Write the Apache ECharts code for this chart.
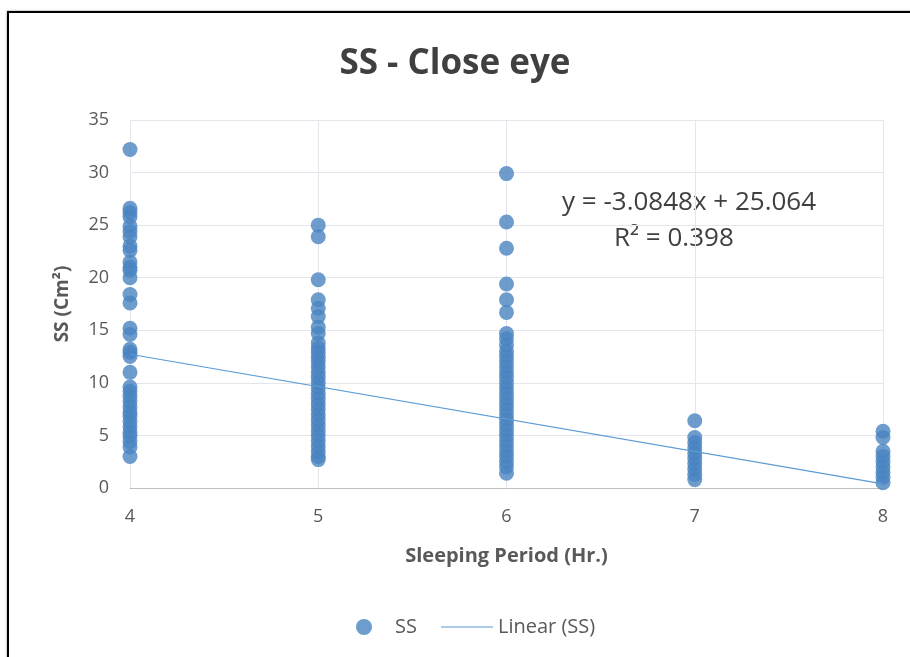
<!DOCTYPE html>
<html>
<head>
<meta charset="utf-8">
<script src="https://cdn.jsdelivr.net/npm/echarts@6/dist/echarts.min.js"></script>
<style>
    body {
        margin: 0;
        width: 910px;
        height: 657px;
        overflow: hidden;
        background: #fff;
        position: relative;
    }

    #frame {
        position: absolute;
        left: 7px;
        top: 11px;
        width: 1000px;
        height: 1000px;
        border: 2px solid #000;
        box-shadow: 0 0 2px #888;
    }

    #chart {
        position: absolute;
        left: 0;
        top: 0;
        width: 910px;
        height: 657px;
    }
</style>
</head>
<body>
<div id="frame"></div>
<div id="chart"></div>
<script>
// sleeping period (hr.)
const periods = [4, 5, 6, 7, 8];

// SS (cm2) per sleeping period
const ss4 = [32.2, 26.6, 26.2, 25.8, 24.9, 24.4, 23.9, 23.0, 22.6, 21.5, 21.0, 20.7, 20.0, 18.4, 17.6,
    15.2, 14.6, 13.2, 12.9, 12.5, 11.0, 9.6, 9.2, 8.7, 8.2, 7.7, 7.2, 6.8, 6.3, 5.8, 5.3, 4.9, 4.4, 3.9, 3.0];
const ss5 = [25.0, 23.9, 19.8, 17.9, 17.1, 16.3, 15.3, 14.7, 13.8, 13.3, 12.9, 12.4, 12.0, 11.5, 11.0,
    10.5, 10.0, 9.5, 9.0, 8.5, 8.0, 7.5, 7.0, 6.5, 6.0, 5.5, 5.0, 4.5, 4.0, 3.5, 3.0, 2.7];
const ss6 = [29.9, 25.3, 22.8, 19.4, 17.9, 16.7, 14.7, 14.2, 13.6, 13.0, 12.5, 12.0, 11.5, 11.0, 10.5,
    10.0, 9.5, 9.0, 8.5, 8.0, 7.5, 7.0, 6.5, 6.0, 5.5, 5.0, 4.5, 4.0, 3.5, 3.0, 2.5, 2.0, 1.4];
const ss7 = [6.4, 4.8, 4.3, 3.8, 3.3, 2.8, 2.3, 1.8, 1.3, 0.8];
const ss8 = [5.4, 4.8, 3.5, 3.0, 2.5, 2.0, 1.5, 1.0, 0.5];

// linear trend end points
const trendX = [4, 8];
const trendY = [12.72, 0.39];

const equation = "y = -3.0848x + 25.064";
const rSquared = "R² = 0.398";

let groups = [ss4, ss5, ss6, ss7, ss8];
let points = [];
groups.forEach((vals, i) => {
    vals.forEach((v) => points.push([periods[i], v]));
});
let trend = trendX.map((x, i) => [x, trendY[i]]);

const font = "'Open Sans', sans-serif";
const textColor = "#595959";

let chart = echarts.init(document.getElementById("chart"));
chart.setOption({
    animation: false,
    title: {
        text: "SS - Close eye",
        left: "center",
        top: 42,
        textStyle: {
            color: "#404040",
            fontSize: 35,
            fontWeight: "bold",
            fontFamily: font,
        },
    },
    legend: [
        {
            data: [{ name: "SS", icon: "circle" }],
            left: 351,
            top: 612,
            itemWidth: 16,
            itemHeight: 16,
            textStyle: {
                color: textColor,
                fontSize: 20,
                fontFamily: font,
                padding: [0, 0, 0, 18],
            },
        },
        {
            data: [{ name: "Linear (SS)", icon: "path://M0,0H52V1H0Z" }],
            left: 436,
            top: 612,
            itemWidth: 52,
            itemHeight: 1.5,
            textStyle: {
                color: textColor,
                fontSize: 20,
                fontFamily: font,
            },
        },
    ],
    grid: {
        left: 130,
        right: 27,
        top: 120,
        bottom: 169,
    },
    xAxis: {
        type: "value",
        min: 4,
        max: 8,
        interval: 1,
        name: "Sleeping Period (Hr.)",
        nameLocation: "middle",
        nameGap: 58,
        nameTextStyle: {
            color: textColor,
            fontSize: 20,
            fontWeight: "bold",
            fontFamily: font,
        },
        axisLine: { lineStyle: { color: "#bfbfbf" } },
        axisTick: { show: false },
        axisLabel: {
            color: textColor,
            fontSize: 18,
            fontFamily: font,
            margin: 20,
        },
        splitLine: { show: true, lineStyle: { color: "#e3e6ec" } },
    },
    yAxis: {
        type: "value",
        min: 0,
        max: 35,
        interval: 5,
        name: "SS (Cm²)",
        nameLocation: "middle",
        nameGap: 58,
        nameTextStyle: {
            color: textColor,
            fontSize: 19,
            fontWeight: "bold",
            fontFamily: font,
        },
        axisLine: { show: false },
        axisTick: { show: false },
        axisLabel: {
            color: textColor,
            fontSize: 18,
            fontFamily: font,
            margin: 21,
        },
        splitLine: { lineStyle: { color: "#e3e6ec" } },
    },
    graphic: [
        {
            type: "text",
            left: 562,
            top: 190,
            style: {
                text: equation,
                fill: "#404040",
                font: "26px " + font,
            },
        },
        {
            type: "text",
            left: 614,
            top: 226,
            style: {
                text: rSquared,
                fill: "#404040",
                font: "26px " + font,
            },
        },
    ],
    series: [
        {
            name: "SS",
            type: "scatter",
            symbol: "circle",
            symbolSize: 15,
            itemStyle: { color: "#4A84C0" },
            data: points,
            z: 3,
        },
        {
            name: "Linear (SS)",
            type: "line",
            symbol: "none",
            lineStyle: { color: "#5B9BD5", width: 1.2 },
            itemStyle: { color: "#5B9BD5" },
            data: trend,
            z: 4,
        },
    ],
});
</script>
</body>
</html>
